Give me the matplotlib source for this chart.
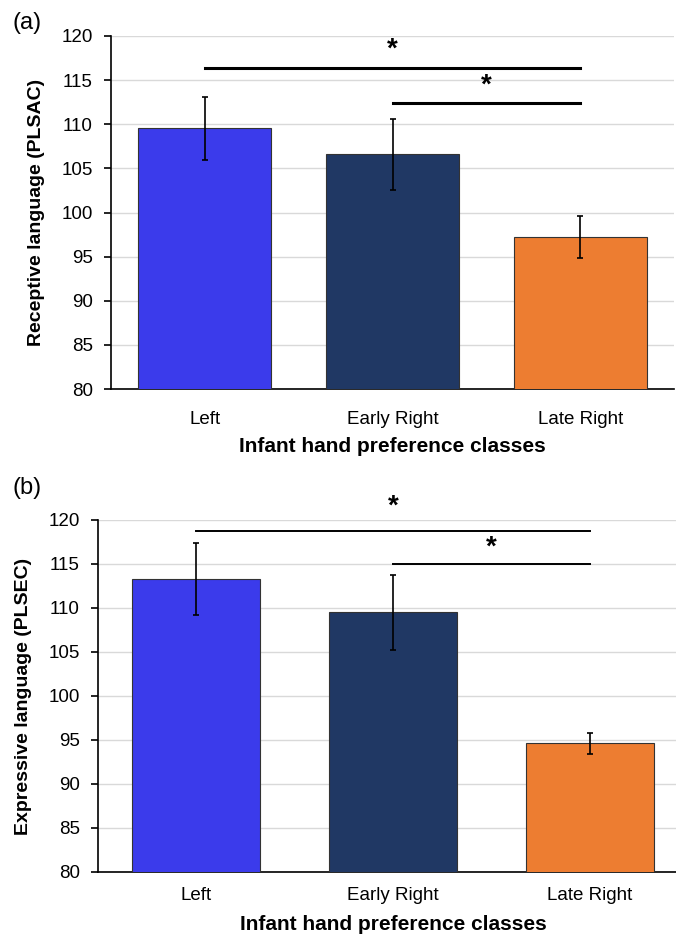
import matplotlib
matplotlib.use("Agg")
import matplotlib.pyplot as plt
import numpy as np

categories = ["Left", "Early Right", "Late Right"]
colors = ["#3B3BEB", "#203864", "#ED7D31"]

rec_means = [109.55, 106.6, 97.25]
rec_err = [3.57, 4.05, 2.36]
exp_means = [113.3, 109.5, 94.65]
exp_err = [4.08, 4.3, 1.2]

sig_pairs = [(0, 2), (1, 2)]
rec_sig_y = [116.4, 112.45]
rec_star_y = [118.5, 114.4]
exp_sig_y = [118.8, 115.0]
exp_star_y = [121.5, 116.9]

yticks = [80, 85, 90, 95, 100, 105, 110, 115, 120]

FONT = ["Liberation Sans", "DejaVu Sans"]

fig = plt.figure(figsize=(6.76, 9.34), dpi=100)

def panel(rect, means, errs, ylabel, sig_y, star_y, bar_w, sig_lw, letter, letter_xy,
          xpad, xlabpad, ylabpad):
    ax = fig.add_axes(rect)
    x = np.arange(len(categories))
    ax.bar(x, means, width=bar_w, color=colors, edgecolor="#333333", linewidth=0.8, zorder=3)
    ax.errorbar(x, means, yerr=errs, fmt="none", ecolor="black", elinewidth=1.2,
                capsize=2, capthick=1.2, zorder=4)
    ax.set_xlim(-0.5, 2.5)
    ax.set_ylim(80, 120)
    ax.set_yticks(yticks)
    ax.set_yticklabels([str(v) for v in yticks], family=FONT, fontsize=13.5)
    ax.set_xticks(x)
    ax.set_xticklabels(categories, family=FONT, fontsize=13.5)
    ax.tick_params(axis="x", length=0, pad=xpad)
    ax.tick_params(axis="y", length=5, width=1.2, pad=8, direction="out")
    ax.yaxis.grid(True, color="#D9D9D9", linewidth=1.0, zorder=0)
    ax.set_axisbelow(True)
    for s in ["top", "right"]:
        ax.spines[s].set_visible(False)
    ax.spines["left"].set_linewidth(1.2)
    ax.spines["bottom"].set_linewidth(1.2)
    ax.set_ylabel(ylabel, family=FONT, fontsize=14, fontweight="bold", labelpad=ylabpad)
    ax.set_xlabel("Infant hand preference classes", family=FONT, fontsize=15,
                  fontweight="bold", labelpad=xlabpad)
    for (a, b), ly, sy in zip(sig_pairs, sig_y, star_y):
        ax.plot([a, b], [ly, ly], color="black", linewidth=sig_lw, clip_on=False, zorder=5)
        ax.text((a + b) / 2, sy, "*", ha="center", va="center", fontsize=20,
                fontweight="bold", family=FONT, clip_on=False)
    fig.text(letter_xy[0], letter_xy[1], letter, fontsize=17, family=FONT,
             ha="left", va="center")
    return ax

panel([111/676, 1 - 389/934, 563/676, 353/934], rec_means, rec_err,
      "Receptive language (PLSAC)", rec_sig_y, rec_star_y, 0.71, 2.2, "(a)",
      (13/676, 1 - 23/934), 16, 6, 12)
panel([98/676, 1 - 872/934, 590/676, 352/934], exp_means, exp_err,
      "Expressive language (PLSEC)", exp_sig_y, exp_star_y, 0.65, 1.4, "(b)",
      (12/676, 1 - 488/934), 11, 8, 12)

fig.savefig("out.png", dpi=100)
